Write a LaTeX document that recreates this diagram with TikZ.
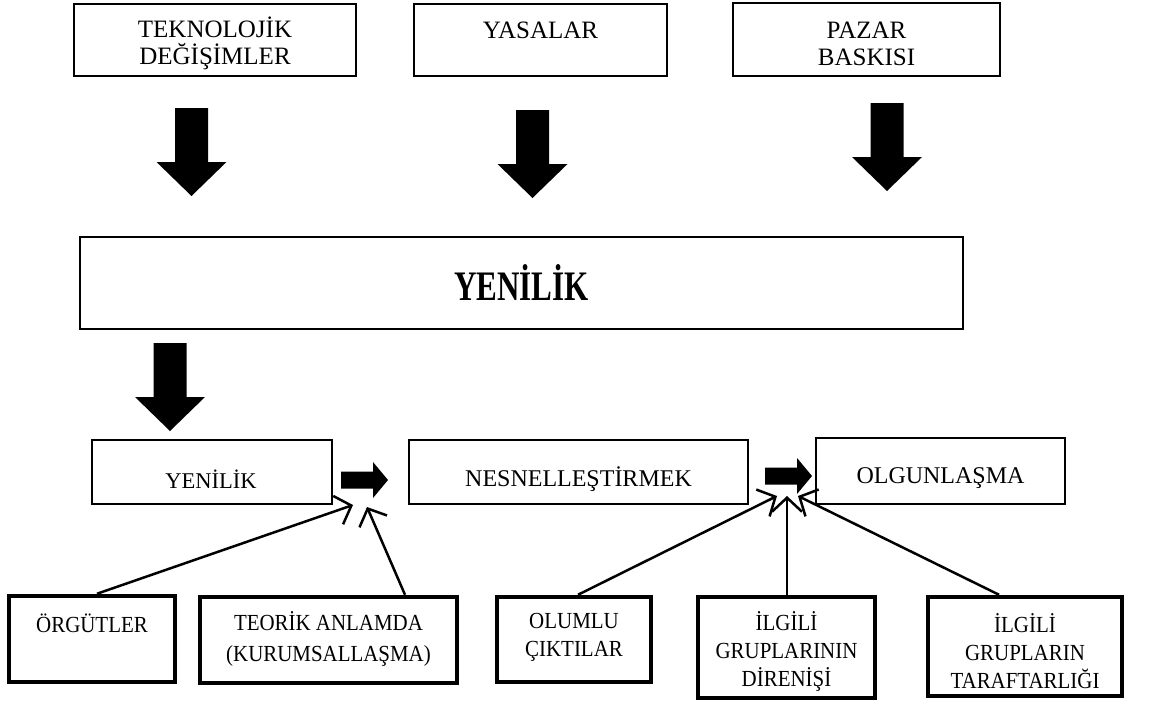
\documentclass[tikz,border=0pt]{standalone}
\usepackage{fontspec}
\setmainfont{Liberation Serif}
\newfontfamily\bigfont[FakeStretch=0.74]{Liberation Serif Bold}
\newfontfamily\botfont[FakeStretch=0.91]{Liberation Serif}
\usetikzlibrary{arrows.meta,calc}
\begin{document}
\begin{tikzpicture}[x=1pt,y=-1pt,
  thinbox/.style={draw, line width=1.3pt, inner sep=0pt},
  midbox/.style={draw, line width=1.6pt, inner sep=0pt},
  thickbox/.style={draw, line width=4.5pt, inner sep=0pt},
  toptxt/.style={align=center, font=\fontsize{25}{27}\selectfont, inner sep=0pt},
  midtxt/.style={align=center, font=\fontsize{24}{27}\selectfont, inner sep=0pt},
  bottxt/.style={align=center, font=\botfont\fontsize{23}{28}\selectfont, inner sep=0pt},
  linearr/.style={line width=2.5pt, -{Straight Barb[length=14pt,width=30pt,line width=2.5pt]}},
  downarr/.pic={\fill (-16.5,0) -- (16.5,0) -- (16.5,54) -- (35,54) -- (0,88) -- (-35,54) -- (-16.5,54) -- cycle;},
  rightarr/.pic={\fill (0,-8.5) -- (32,-8.5) -- (32,-18) -- (47,0) -- (32,18) -- (32,8.5) -- (0,8.5) -- cycle;}
]
\useasboundingbox (0,0) rectangle (1149,704);

% top boxes
\node[thinbox, minimum width=282pt, minimum height=72pt] (tek) at (215,40) {};
\node[toptxt] at (215,43.5) {TEKNOLOJİK\\DEĞİŞİMLER};
\node[thinbox, minimum width=253pt, minimum height=72pt] (yas) at (540.5,40) {};
\node[toptxt] at (540.5,30) {YASALAR};
\node[thinbox, minimum width=267pt, minimum height=73pt] (paz) at (866.5,39.5) {};
\node[toptxt] at (866.5,43.5) {PAZAR\\BASKISI};

% down block arrows
\pic at (191.5,108) {downarr};
\pic at (532.5,110) {downarr};
\pic at (887,103) {downarr};

% big box
\node[thinbox, minimum width=883pt, minimum height=92pt] (big) at (521.5,283) {};
\node[inner sep=0pt, font=\bigfont\fontsize{42}{46}\selectfont] at (521.5,283) {YENİLİK};

\pic at (170,343) {downarr};

% middle row
\node[midbox, minimum width=240pt, minimum height=64pt] (yen) at (212,472) {};
\node[midtxt, font=\fontsize{22.5}{27}\selectfont] at (211,479) {YENİLİK};
\node[midbox, minimum width=339pt, minimum height=64pt] (nes) at (578.5,472) {};
\node[midtxt] at (578.5,479) {NESNELLEŞTİRMEK};
\node[midbox, minimum width=249pt, minimum height=66pt] (olg) at (940.5,471) {};
\node[midtxt] at (940.5,478) {OLGUNLAŞMA};

\pic at (341,480) {rightarr};
\pic at (765,476) {rightarr};

% bottom row
\node[thickbox, minimum width=166pt, minimum height=86pt] (org) at (92,639) {};
\node[bottxt] at (92,623) {ÖRGÜTLER};
\node[thickbox, minimum width=257pt, minimum height=86pt] (teo) at (328.5,640) {};
\node[bottxt, font=\botfont\fontsize{23}{31}\selectfont] at (328.5,639) {TEORİK ANLAMDA\\(KURUMSALLAŞMA)};
\node[thickbox, minimum width=154pt, minimum height=85pt] (olu) at (574,639.5) {};
\node[bottxt] at (574,637) {OLUMLU\\ÇIKTILAR};
\node[thickbox, minimum width=177pt, minimum height=101pt] (dir) at (786.5,647.5) {};
\node[bottxt] at (786.5,651) {İLGİLİ\\GRUPLARININ\\DİRENİŞİ};
\node[thickbox, minimum width=194pt, minimum height=99pt] (tar) at (1025,646.5) {};
\node[bottxt] at (1025,651) {İLGİLİ\\GRUPLARIN\\TARAFTARLIĞI};

% arrow tips
\coordinate (t1a) at (353,505);
\coordinate (t1b) at (367,507);
\coordinate (t2a) at (777,496);
\coordinate (t2b) at (787,496);
\coordinate (t2c) at (798,496);

\draw[linearr] ([xshift=5pt]org.north) -- (t1a);
\draw[linearr] ([xshift=76.5pt]teo.north) -- (t1b);
\draw[linearr] ([xshift=4pt]olu.north) -- (t2a);
\draw[linearr] ([xshift=0.5pt]dir.north) -- (t2b);
\draw[linearr] ([xshift=-26pt]tar.north) -- (t2c);
\end{tikzpicture}
\end{document}
